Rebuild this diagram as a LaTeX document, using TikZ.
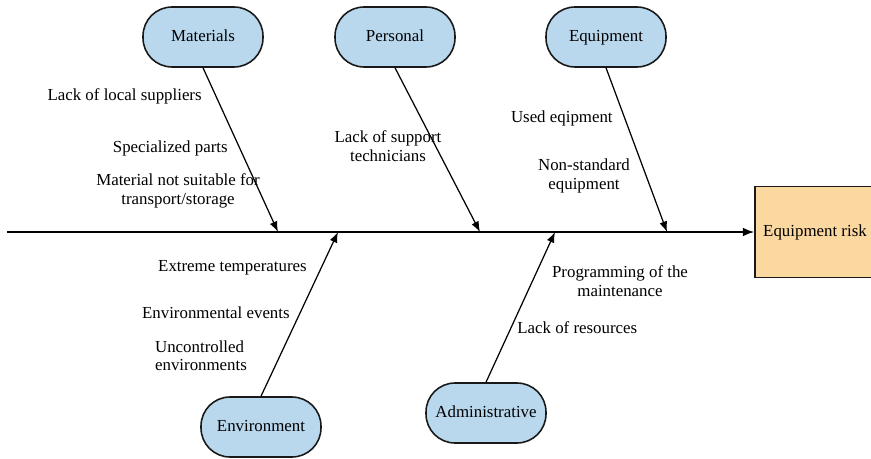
\documentclass[tikz,border=0pt]{standalone}
\usepackage{fontspec}
\setmainfont{Liberation Serif}
\usepackage{xcolor}
\usepackage{tikz}
\usetikzlibrary{positioning,arrows.meta}

\definecolor{causeblue}{RGB}{185,215,237}
\definecolor{effectorange}{RGB}{251,216,160}

\begin{document}
\begin{tikzpicture}[x=0.02cm,y=-0.02cm,
    font=\fontsize{9.6}{10.5}\selectfont,
    cause/.style={draw=black!90,line width=0.9pt,fill=causeblue,rounded corners=0.58cm,
        minimum width=2.4cm,minimum height=1.2cm,text height=1.5ex,text depth=0.35ex},
    effect/.style={draw=black!90,line width=0.9pt,fill=effectorange,
        minimum width=2.4cm,minimum height=1.82cm},
    bone/.style={line width=0.7pt,-{Latex[length=6pt,width=4.5pt]}},
    spine/.style={line width=1pt,-{Latex[length=6.5pt,width=5pt]}},
    lbl/.style={inner sep=0pt,align=center}]
    \clip (0,0) rectangle (871,459);

    % Effect and main line
    \node[effect] (risk) at (815,232) {Equipment risk};
    \coordinate (tail) at (7,232);
    \draw[spine] (tail) -- (risk.west);

    % Categories
    \node[cause] (materials) at (203,37) {Materials};
    \node[cause] (personal) at (395,37) {Personal};
    \node[cause] (equipment) at (606,37) {Equipment};
    \node[cause] (environment) at (261,427) {Environment};
    \node[cause] (admin) at (486,413) {Administrative};

    % Bones
    \foreach \n/\x in {materials/278,personal/480,equipment/667} {
        \coordinate (\n-in) at (\x,232);
        \draw[bone] (\n.south) -- (\n-in);
    }
    \foreach \n/\x in {environment/338,admin/555} {
        \coordinate (\n-in) at (\x,232);
        \draw[bone] (\n.north) -- (\n-in);
    }

    % Causes
    \node[lbl,anchor=east] (suppliers) at (202,96) {Lack of local suppliers};
    \node[lbl,anchor=east] (parts) at (228,148) {Specialized parts};
    \node[lbl] (unsuitable) at (178,191) {Material not suitable for\\transport/storage};
    \node[lbl] (technicians) at (388,146) {Lack of support\\technicians};
    \node[lbl,anchor=east] (used) at (613,118) {Used eqipment};
    \node[lbl] (nonstandard) at (584,176) {Non-standard\\equipment};
    \node[lbl,anchor=east] (temps) at (307,268) {Extreme temperatures};
    \node[lbl,anchor=east] (events) at (290,313) {Environmental events};
    \node[lbl,align=left] (uncontrolled) at (201,356) {Uncontrolled\\environments};
    \node[lbl] (programming) at (620,281) {Programming of the\\maintenance};
    \node[lbl,anchor=west] (resources) at (517,328) {Lack of resources};
\end{tikzpicture}
\end{document}
